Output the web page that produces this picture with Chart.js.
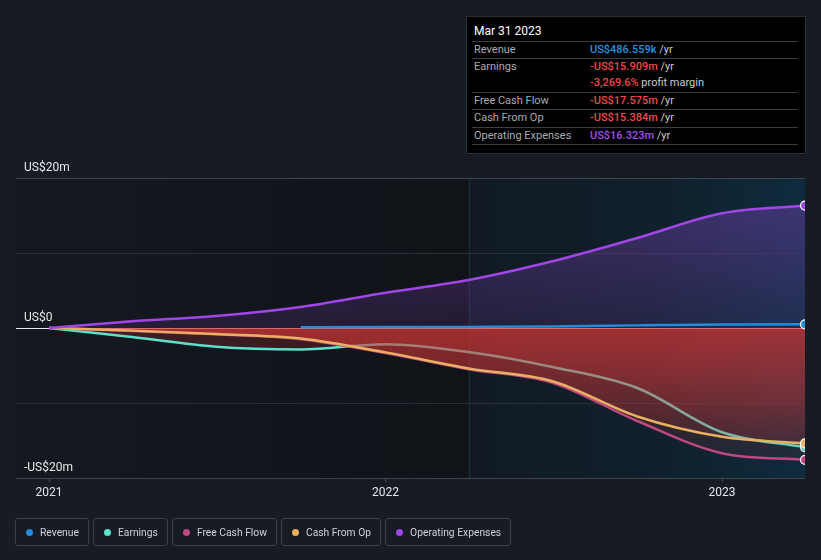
<!DOCTYPE html>
<html><head><meta charset="utf-8">
<script src="https://cdn.jsdelivr.net/npm/chart.js@4.4.1/dist/chart.umd.min.js"></script>
<style>
html,body{margin:0;padding:0;background:#161b24;}
body{width:821px;height:560px;position:relative;overflow:hidden;font-family:Roboto,"Noto Sans",sans-serif;}
#c{position:absolute;left:0;top:0;}
#tip{position:absolute;left:466px;top:16px;width:340px;height:138px;background:#000;border:1px solid #2b3038;box-sizing:border-box;}
#tip .title{position:absolute;left:7px;top:7px;font-size:12px;color:#fff;line-height:14px;}
#tip .sep{position:absolute;left:5px;right:7px;height:0;border-top:1px solid #3b3e44;}
#tip .lab{position:absolute;left:7px;font-size:11px;color:#a9acb1;line-height:14px;}
#tip .val{position:absolute;left:123px;font-size:11px;color:#c9ccd1;line-height:14px;white-space:nowrap;}
#tip .val b{font-weight:500;}
#legend{position:absolute;left:15px;top:518px;display:flex;}
#legend .item{box-sizing:border-box;height:28px;border:1px solid #3a3f48;border-radius:3px;display:flex;align-items:center;padding:0 9px 0 10px;margin-right:4px;font-size:10.3px;color:#cdd1d8;white-space:nowrap;}
#legend .dot{width:7px;height:7px;border-radius:50%;margin-right:7px;}
</style></head>
<body>
<canvas id="c" width="821" height="560"></canvas>
<div id="tip"></div>
<div id="legend"></div>
<script>
// ---- data (US$ millions) ----
const dates = ['2020-12-31','2021-03-31','2021-06-30','2021-09-30','2021-12-31','2022-03-31','2022-06-30','2022-09-30','2022-12-31','2023-03-31'];
const revenue  = [null, null, null, 0.1, 0.12, 0.15, 0.2, 0.35, 0.48, 0.4866];
const earnings = [0, -1.2, -2.5, -2.85, -2.15, -3.2, -5.2, -8.0, -13.9, -15.909];
const freeCashFlow = [0, -0.4, -0.85, -1.5, -3.35, -5.5, -7.3, -12.4, -16.7, -17.575];
const cashFromOp = [0, -0.35, -0.8, -1.4, -3.25, -5.4, -7.1, -11.8, -14.5, -15.384];
const opExpenses = [0, 0.9, 1.6, 2.8, 4.7, 6.4, 8.9, 12.0, 15.3, 16.323];
const xTickYears = [2021, 2022, 2023];
const yTickLabels = {'20':'US$20m','0':'US$0','-20':'-US$20m'};
const highlightStart = '2022-03-31';
const axisStart = '2020-11-25';
const seriesNames = ['Revenue','Earnings','Free Cash Flow','Cash From Op','Operating Expenses'];
const seriesColors = ['#238cdc','#5ce0cc','#c04880','#e8b060','#a046e6'];
const tipTitle = 'Mar 31 2023';
const tipValues = ['US$486.559k','-US$15.909m','-US$17.575m','-US$15.384m','US$16.323m'];
const tipMargin = '-3,269.6%';

function toYear(s){
  const [y,m,d] = s.split('-').map(Number);
  const leap = (y%4===0 && y%100!==0) || y%400===0;
  const doy = (Date.UTC(y,m-1,d) - Date.UTC(y,0,1))/86400000 + 1;
  return y + doy/(leap?366:365);
}
const xs = dates.map(toYear);
function pts(arr){ const out=[]; arr.forEach((v,i)=>{ if(v!==null) out.push({x:xs[i], y:v}); }); return out; }

function redFill(a0,a1){
  return ctx => {
    const c = ctx.chart, ar = c.chartArea;
    if(!ar) return 'rgba(0,0,0,0)';
    const y0 = c.scales.y.getPixelForValue(0);
    const g = c.ctx.createLinearGradient(0,y0,0,ar.bottom);
    g.addColorStop(0,`rgba(215,55,55,${a0})`);
    g.addColorStop(1,`rgba(215,55,55,${a1})`);
    return g;
  };
}
function purpleFill(ctx){
  const c = ctx.chart, ar = c.chartArea;
  if(!ar) return 'rgba(0,0,0,0)';
  const y0 = c.scales.y.getPixelForValue(0);
  const g = c.ctx.createLinearGradient(0,ar.top,0,y0);
  g.addColorStop(0,'rgba(162,78,232,0.36)');
  g.addColorStop(1,'rgba(162,78,232,0.12)');
  return g;
}

const bgPlugin = {
  id:'bg',
  beforeDraw(chart){
    const {ctx, chartArea:a, scales:{x}} = chart;
    ctx.save();
    ctx.fillStyle = '#161b24';
    ctx.fillRect(0,0,chart.width,chart.height);
    const xh = x.getPixelForValue(toYear(highlightStart));
    let g = ctx.createLinearGradient(a.left,0,xh,0);
    g.addColorStop(0,'#141920'); g.addColorStop(1,'#101318');
    ctx.fillStyle = g;
    ctx.fillRect(a.left,a.top,xh-a.left,a.bottom-a.top);
    g = ctx.createLinearGradient(xh,0,a.right,0);
    g.addColorStop(0,'#111a23'); g.addColorStop(0.55,'#10202c'); g.addColorStop(1,'#0e2b3d');
    ctx.fillStyle = g;
    ctx.fillRect(xh,a.top,a.right-xh,a.bottom-a.top);
    ctx.fillStyle = '#172d3b';
    ctx.fillRect(Math.round(xh),a.top,1,a.bottom-a.top);
    ctx.restore();
  }
};

function common(color, n){
  return {
    borderColor: color, borderWidth: 2.5,
    cubicInterpolationMode: 'monotone',
    pointRadius: ctx => ctx.dataIndex === n-1 ? 4.5 : 0,
    pointHoverRadius: 0,
    pointBackgroundColor: color, pointBorderColor: '#ffffff', pointBorderWidth: 1.2,
    clip: 0
  };
}
const revPts = pts(revenue), opPts = pts(opExpenses), cfoPts = pts(cashFromOp), fcfPts = pts(freeCashFlow), earnPts = pts(earnings);

new Chart(document.getElementById('c'), {
  type: 'line',
  data: {
    datasets: [
      Object.assign({label:seriesNames[0], data: revPts, fill:false, backgroundColor:'rgba(0,0,0,0)'}, common(seriesColors[0], revPts.length)),
      Object.assign({label:seriesNames[4], data: opPts, fill:'origin', backgroundColor: purpleFill}, common(seriesColors[4], opPts.length)),
      Object.assign({label:seriesNames[3], data: cfoPts, fill:'origin', backgroundColor: redFill(0.4,0.03)}, common(seriesColors[3], cfoPts.length)),
      Object.assign({label:seriesNames[2], data: fcfPts, fill:'origin', backgroundColor: redFill(0.4,0.03)}, common(seriesColors[2], fcfPts.length)),
      Object.assign({label:seriesNames[1], data: earnPts, fill:'origin', backgroundColor: redFill(0.22,0)}, common(seriesColors[1], earnPts.length))
    ]
  },
  options: {
    responsive: false, animation: false, devicePixelRatio: 1,
    layout: { padding: { left: 0, right: 16, top: 178, bottom: 55.6 } },
    plugins: { legend: { display: false }, tooltip: { enabled: false } },
    scales: {
      x: {
        type: 'linear', min: toYear(axisStart), max: xs[xs.length-1],
        border: { display: false },
        grid: { drawOnChartArea: false, drawTicks: true, tickLength: 4, color: '#4a4f57' },
        afterBuildTicks: s => { s.ticks = xTickYears.map(v => ({value: v})); },
        ticks: { color: '#e4e6ea', font: { size: 12, family: 'Roboto' }, padding: 4, maxRotation: 0, autoSkip: false, callback: v => String(v) }
      },
      y: {
        min: -20, max: 20, position: 'left',
        border: { display: false },
        grid: { drawTicks: false, lineWidth: 1,
          color: ctx => { const v = ctx.tick.value; return v === 0 ? '#e8e8e8' : (Math.abs(v) === 20 ? '#40444c' : '#2b2f36'); } },
        ticks: { stepSize: 10, mirror: true, padding: 8, labelOffset: -10, color: '#e8e8e8', font: { size: 12, family: 'Roboto' },
          callback: v => yTickLabels[String(v)] || '' }
      }
    }
  },
  plugins: [bgPlugin]
});

// ---- tooltip box (HTML text) ----
const tip = document.getElementById('tip');
const valColors = ['#2394df','#f04848','#f04848','#f04848','#a24ee8'];
let html = `<div class="title">${tipTitle}</div>`;
const sepTops = [24, 41, 75, 92, 110, 127];
sepTops.forEach(t => html += `<div class="sep" style="top:${t}px"></div>`);
const rowTops = [25, 42, 76, 93, 111];
seriesNames.forEach((n,i) => {
  html += `<div class="lab" style="top:${rowTops[i]+1}px">${n}</div>`;
  html += `<div class="val" style="top:${rowTops[i]+1}px"><b style="color:${valColors[i]}">${tipValues[i]}</b> /yr</div>`;
});
html += `<div class="val" style="top:${59}px"><b style="color:#f04848">${tipMargin}</b> profit margin</div>`;
tip.innerHTML = html;

// ---- legend (HTML) ----
const lg = document.getElementById('legend');
seriesNames.forEach((n,i) => {
  const d = document.createElement('div'); d.className = 'item';
  d.innerHTML = `<span class="dot" style="background:${seriesColors[i]}"></span>${n}`;
  lg.appendChild(d);
});
</script>
</body></html>
